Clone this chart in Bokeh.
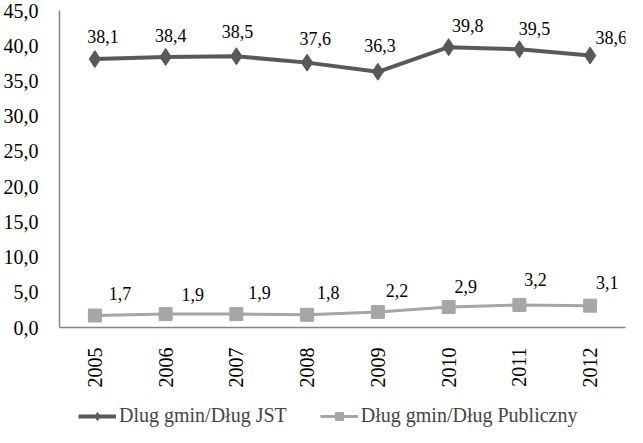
from bokeh.plotting import figure
from bokeh.models import (ColumnDataSource, Range1d, FactorRange, FixedTicker, CustomJSTickFormatter,
                          LabelSet, Legend, LegendItem)
from bokeh.layouts import column
from bokeh.embed import file_html
from bokeh.resources import INLINE
import math

years = ["2005", "2006", "2007", "2008", "2009", "2010", "2011", "2012"]
dlug_jst = [38.1, 38.4, 38.5, 37.6, 36.3, 39.8, 39.5, 38.6]
dlug_publ = [1.7, 1.9, 1.9, 1.8, 2.2, 2.9, 3.2, 3.1]
name_jst = "Dlug gmin/Dług JST"
name_publ = "Dług gmin/Dług Publiczny"
y_ticks = [0, 5, 10, 15, 20, 25, 30, 35, 40, 45]

# label pixel offsets (style only)
dx_jst = [8, 5, 1, 8, 2, 19, 15, 21]
dy_jst = [23, 21, 25, 24, 26, 22, 21, 18]
dx_publ = [25, 27, 23, 21, 19, 17, 16, 17]
dy_publ = [22, 20, 22, 22, 22, 21, 25, 23]

FONT = "Liberation Serif"
DARK = "#595959"
LIGHT = "#A6A6A6"
AXIS = "#868686"

def fmt(v):
    return f"{v:.1f}".replace(".", ",")

src1 = ColumnDataSource(dict(x=years, y=dlug_jst, t=[fmt(v) for v in dlug_jst], dx=dx_jst, dy=dy_jst))
src2 = ColumnDataSource(dict(x=years, y=dlug_publ, t=[fmt(v) for v in dlug_publ], dx=dx_publ, dy=dy_publ))

p = figure(x_range=years, y_range=Range1d(0, 45), width=627, height=390,
           output_backend="svg", toolbar_location=None,
           min_border_left=55, min_border_right=2, min_border_top=10, min_border_bottom=56)
p.outline_line_color = None
p.xgrid.grid_line_color = None
p.ygrid.grid_line_color = None
p.background_fill_color = "white"
p.border_fill_color = "white"

p.line("x", "y", source=src1, line_color=DARK, line_width=4)
p.scatter("x", "y", source=src1, marker="diamond", size=17, fill_color=DARK, line_color=DARK)
p.line("x", "y", source=src2, line_color=LIGHT, line_width=3)
p.scatter("x", "y", source=src2, marker="square", size=13, fill_color=LIGHT, line_color=LIGHT)

for s in (src1, src2):
    lab = LabelSet(x="x", y="y", text="t", source=s, x_offset={"field": "dx"}, y_offset={"field": "dy"},
                   text_align="center", text_baseline="middle",
                   text_font=FONT, text_font_size="18px", text_color="black")
    p.add_layout(lab)

p.yaxis.ticker = FixedTicker(ticks=y_ticks)
p.yaxis.formatter = CustomJSTickFormatter(code="return tick.toFixed(1).replace('.', ',');")
for ax in (p.xaxis, p.yaxis):
    ax.axis_line_color = AXIS
    ax.axis_line_width = 1.5
    ax.major_tick_line_color = None
    ax.minor_tick_line_color = None
    ax.major_label_text_font = FONT
    ax.major_label_text_font_size = "20px"
    ax.major_label_text_color = "black"
p.yaxis.major_label_standoff = 15
p.xaxis.major_label_standoff = 14
p.xaxis.major_label_orientation = math.pi / 2

# legend strip: a second figure whose series are out of its view, used only for the legend
pl = figure(width=627, height=37, output_backend="svg", toolbar_location=None,
            x_range=FactorRange(*years), y_range=Range1d(1000, 1001),
            x_axis_type=None, y_axis_type=None,
            min_border_left=0, min_border_right=0, min_border_top=0, min_border_bottom=0)
pl.outline_line_color = None
pl.border_fill_color = "white"
pl.background_fill_color = "white"
d1 = pl.line("x", "y", source=src1, line_color=DARK, line_width=4)
d1m = pl.scatter("x", "y", source=src1, marker="diamond", size=17, fill_color=DARK, line_color=DARK)
d2 = pl.line("x", "y", source=src2, line_color=LIGHT, line_width=3)
d2m = pl.scatter("x", "y", source=src2, marker="square", size=13, fill_color=LIGHT, line_color=LIGHT)

legend = Legend(items=[LegendItem(label=name_jst, renderers=[d1, d1m]),
                       LegendItem(label=name_publ, renderers=[d2, d2m])],
                orientation="horizontal", location=(19, 0),
                label_text_font=FONT, label_text_font_size="20px",
                label_height=20, glyph_height=20,
                glyph_width=38, label_standoff=3, spacing=33,
                padding=0, margin=0, border_line_color=None,
                background_fill_alpha=0)
pl.add_layout(legend, "center")

layout = column(p, pl, spacing=0)
open("out.html", "w").write(file_html(layout, INLINE))
